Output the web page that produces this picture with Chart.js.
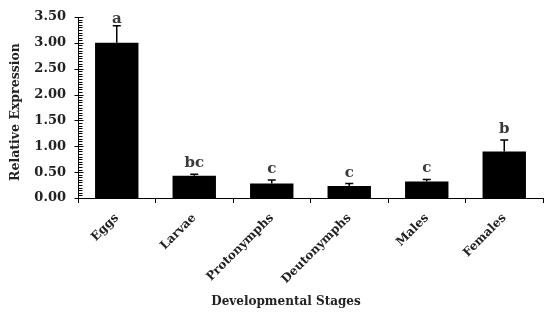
<!DOCTYPE html>
<html><head><meta charset="utf-8">
<script src="https://cdn.jsdelivr.net/npm/chart.js@4/dist/chart.umd.min.js"></script>
<style>html,body{margin:0;padding:0;background:#fff}#w{width:550px;height:323px}</style>
</head><body><div id="w"><canvas id="c"></canvas></div>
<script>
const categories = ["Eggs","Larvae","Protonymphs","Deutonymphs","Males","Females"];
const values = [3.00, 0.43, 0.28, 0.23, 0.32, 0.90];
const errors = [0.33, 0.03, 0.07, 0.05, 0.04, 0.22];
const letters = ["a","bc","c","c","c","b"];
const yTicks = [0, 0.5, 1, 1.5, 2, 2.5, 3, 3.5];
const xTitle = "Developmental Stages";
const yTitle = "Relative Expression";

const FONT = "'DejaVu Serif', 'Liberation Serif', serif";

const extras = {
  id: 'extras',
  afterDatasetsDraw(chart) {
    const ctx = chart.ctx, y = chart.scales.y;
    ctx.save();
    ctx.strokeStyle = '#000'; ctx.lineWidth = 1;
    const ax = Math.round(chart.chartArea.left) + 0.5;
    for (let i = 0; i <= 70; i++) {
      const v = i * 0.05;
      const py = Math.round(y.getPixelForValue(v)) + 0.5;
      const major = i % 10 === 0;
      ctx.beginPath();
      if (major) { ctx.moveTo(ax - 4, py); ctx.lineTo(ax + 5, py); }
      else { ctx.moveTo(ax, py); ctx.lineTo(ax + 4, py); }
      ctx.stroke();
    }
    const meta = chart.getDatasetMeta(0);
    meta.data.forEach((bar, i) => {
      const cx = bar.x;
      const top = y.getPixelForValue(values[i] + errors[i]);
      const base = y.getPixelForValue(values[i]);
      ctx.strokeStyle = '#000'; ctx.lineWidth = 1.5;
      ctx.beginPath();
      ctx.moveTo(cx, base); ctx.lineTo(cx, top);
      ctx.moveTo(cx - 4, top); ctx.lineTo(cx + 4, top);
      ctx.stroke();
      ctx.fillStyle = '#3a3a3a';
      ctx.font = "bold 15px " + FONT;
      ctx.textAlign = 'center'; ctx.textBaseline = 'alphabetic';
      ctx.fillText(letters[i], cx, Math.max(top - 7, 23));
    });
    // axis titles
    ctx.fillStyle = '#222';
    ctx.textAlign = 'center'; ctx.textBaseline = 'middle';
    ctx.font = "bold 12px " + FONT;
    ctx.fillText(xTitle, 286, 302);
    ctx.translate(16, 112);
    ctx.rotate(-Math.PI / 2);
    ctx.font = "bold 12.5px " + FONT;
    ctx.fillText(yTitle, 0, 0);
    ctx.restore();
  }
};

new Chart(document.getElementById('c'), {
  type: 'bar',
  data: {
    labels: categories,
    datasets: [{
      data: values,
      backgroundColor: '#000',
      borderWidth: 0,
      categoryPercentage: 1.0,
      barPercentage: 0.56
    }]
  },
  options: {
    responsive: true,
    maintainAspectRatio: false,
    animation: false,
    devicePixelRatio: 1,
    layout: { padding: { top: 17, right: 7, bottom: 0, left: 0 } },
    plugins: { legend: { display: false }, tooltip: { enabled: false } },
    scales: {
      x: {
        afterFit(s) { s.height = 125; },
        grid: { display: true, drawOnChartArea: false, drawTicks: true, tickLength: 5, color: '#000', offset: true },
        border: { display: true, color: '#000', width: 1 },
        ticks: {
          autoSkip: false, minRotation: 45, maxRotation: 45, padding: 8,
          color: '#222', font: { family: FONT, size: 12, weight: 'bold' }
        }
      },
      y: {
        min: 0, max: 3.5,
        afterFit(s) { s.width = 78; },
        afterBuildTicks(s) { s.ticks = yTicks.map(v => ({ value: v })); },
        grid: { display: false, drawOnChartArea: false },
        border: { display: true, color: '#000', width: 1 },
        ticks: {
          padding: 4, color: '#222',
          font: { family: FONT, size: 13, weight: 'bold' },
          callback: v => Number(v).toFixed(2)
        }
      }
    }
  },
  plugins: [extras]
});
</script>
</body></html>
